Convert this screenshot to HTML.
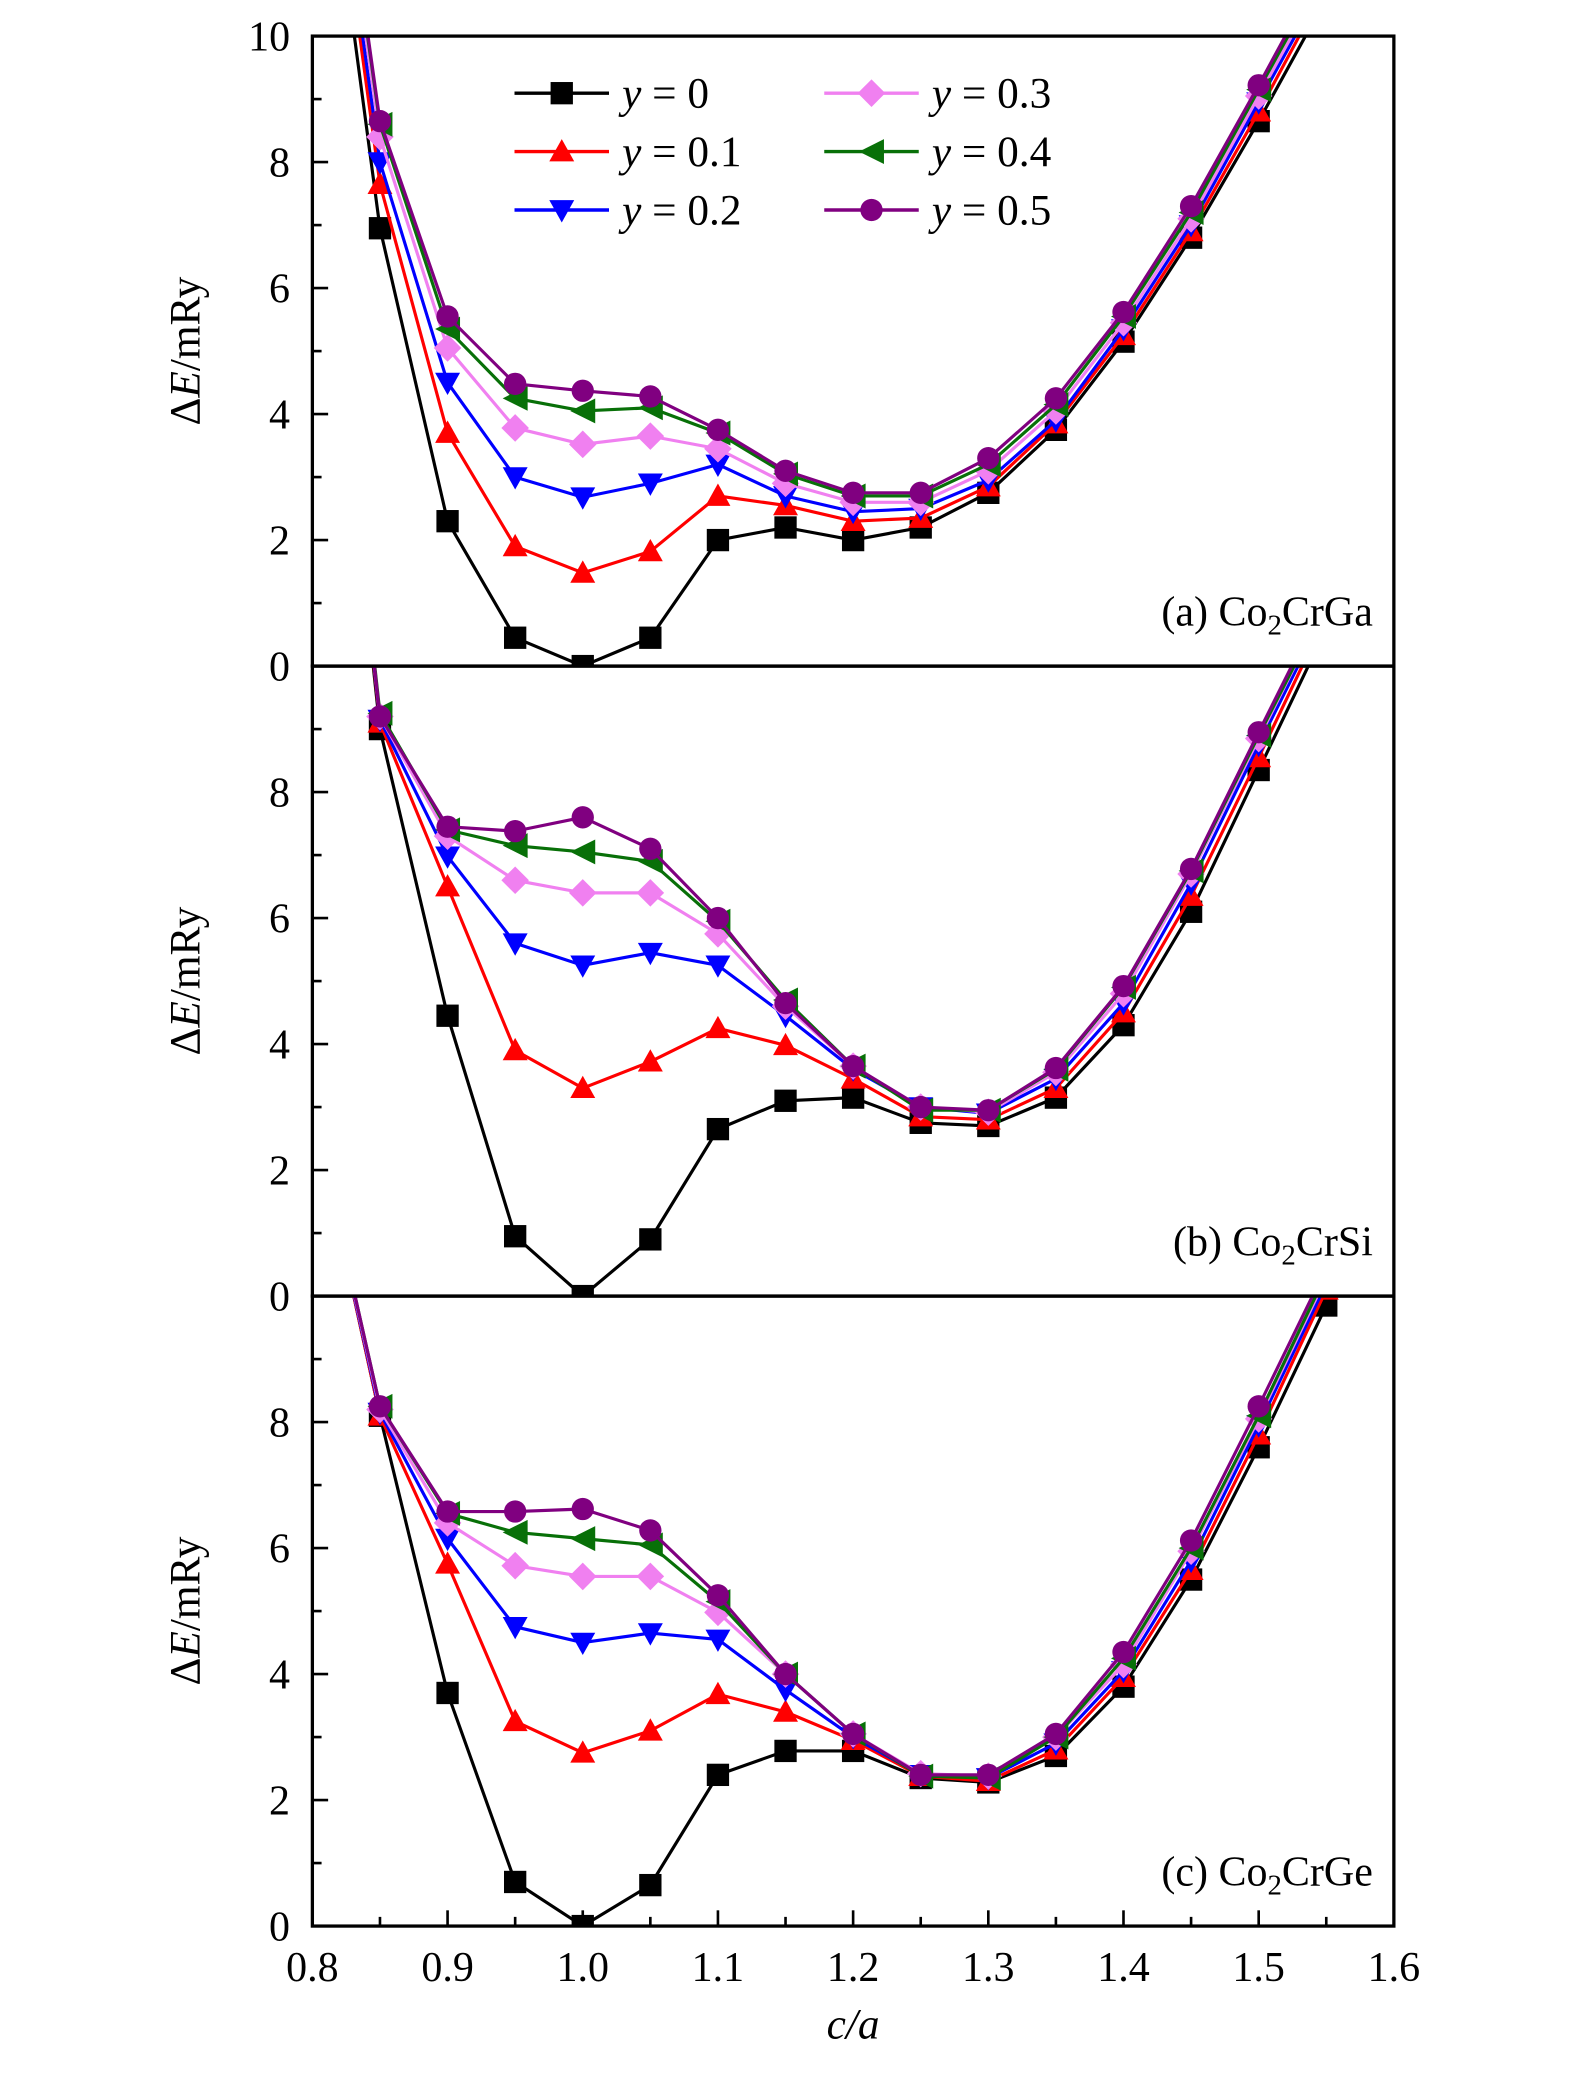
<!DOCTYPE html>
<html><head><meta charset="utf-8"><style>
html,body{margin:0;padding:0;background:#fff}
svg{display:block}
text{font-family:"Liberation Serif",serif;fill:#000}
</style></head><body>
<svg id="chart" width="1575" height="2077" viewBox="0 0 1200 1582.5" xmlns="http://www.w3.org/2000/svg"></svg>
<script>
const xValues=[0.8,0.85,0.9,0.95,1.0,1.05,1.1,1.15,1.2,1.25,1.3,1.35,1.4,1.45,1.5,1.55];
const seriesLabels=["y = 0","y = 0.1","y = 0.2","y = 0.3","y = 0.4","y = 0.5"];
const xTickLabels=["0.8","0.9","1.0","1.1","1.2","1.3","1.4","1.5","1.6"];
const yTickLabels=["0","2","4","6","8"];
const panelLabels=["(a) Co","(b) Co","(c) Co"];
const panelSuffix=["CrGa","CrSi","CrGe"];
const panelA=[
[15,6.95,2.3,0.45,0,0.45,2.0,2.2,2.0,2.2,2.75,3.75,5.15,6.8,8.65,10.6],
[15.5,7.65,3.7,1.9,1.48,1.82,2.7,2.55,2.3,2.35,2.85,3.85,5.25,6.9,8.8,10.8],
[15.8,8.0,4.5,3.0,2.68,2.9,3.2,2.7,2.45,2.5,2.95,3.9,5.35,7.0,8.95,10.9],
[16,8.4,5.05,3.78,3.52,3.65,3.45,2.9,2.6,2.6,3.1,4.05,5.45,7.1,9.05,11.0],
[16.2,8.6,5.35,4.25,4.05,4.1,3.7,3.05,2.7,2.7,3.2,4.15,5.55,7.2,9.15,11.1],
[16.3,8.65,5.55,4.48,4.37,4.28,3.75,3.1,2.75,2.75,3.3,4.25,5.62,7.3,9.22,11.2]];
const panelB=[
[19,9.0,4.45,0.95,0,0.9,2.65,3.1,3.15,2.75,2.7,3.15,4.3,6.1,8.35,10.6],
[19,9.1,6.5,3.9,3.3,3.72,4.25,3.98,3.45,2.85,2.8,3.3,4.5,6.35,8.55,10.8],
[19,9.15,6.98,5.6,5.25,5.45,5.25,4.45,3.6,3.0,2.9,3.45,4.65,6.55,8.75,10.9],
[19,9.2,7.3,6.6,6.4,6.4,5.75,4.6,3.65,3.0,2.92,3.55,4.8,6.7,8.85,11.0],
[19,9.25,7.4,7.15,7.05,6.9,5.95,4.7,3.65,2.95,2.95,3.6,4.9,6.75,8.9,11.0],
[19,9.2,7.45,7.38,7.6,7.1,6.0,4.65,3.65,3.0,2.95,3.62,4.92,6.78,8.95,11.1]];
const panelC=[
[13,8.1,3.7,0.7,0.0,0.65,2.4,2.78,2.78,2.35,2.28,2.7,3.8,5.5,7.6,9.85],
[13,8.1,5.75,3.25,2.75,3.1,3.68,3.4,2.95,2.38,2.3,2.8,3.95,5.65,7.8,10.1],
[13,8.15,6.15,4.75,4.5,4.65,4.55,3.75,3.0,2.4,2.35,2.9,4.05,5.8,7.95,10.2],
[13,8.2,6.4,5.72,5.55,5.55,4.98,4.0,3.05,2.42,2.38,3.0,4.15,5.95,8.05,10.3],
[13,8.25,6.55,6.25,6.15,6.05,5.15,4.0,3.05,2.38,2.35,3.0,4.25,6.0,8.1,10.35],
[13,8.25,6.58,6.58,6.62,6.28,5.25,4.0,3.05,2.4,2.4,3.05,4.35,6.12,8.25,10.45]];
const panelData=[panelA,panelB,panelC];
const colors=["#000","#f00","#00f","#f080f0","#087008","#800080"];
const markerTypes=["square","up","down","diamond","left","circle"];

const NS="http://www.w3.org/2000/svg";
const svg=document.getElementById('chart');
const L=238,R=1062,PH=480,panelTops=[27.5,507.5,987.5];
const xs=v=>L+(v-0.8)/0.8*(R-L);
function mk(tag,attrs,parent){const e=document.createElementNS(NS,tag);for(const k in attrs)e.setAttribute(k,attrs[k]);(parent||svg).appendChild(e);return e;}
function marker(type,x,y,c,g){
  const s=8.5;let e;
  if(type==="square")e=mk('rect',{x:x-s,y:y-s,width:2*s,height:2*s,fill:c},g);
  else if(type==="circle")e=mk('circle',{cx:x,cy:y,r:s,fill:c},g);
  else if(type==="up")e=mk('polygon',{points:`${x},${y-s-1} ${x-s-1},${y+s-1} ${x+s+1},${y+s-1}`,fill:c},g);
  else if(type==="down")e=mk('polygon',{points:`${x},${y+s+1} ${x-s-1},${y-s+1} ${x+s+1},${y-s+1}`,fill:c},g);
  else if(type==="diamond")e=mk('polygon',{points:`${x},${y-s-2} ${x+s+2},${y} ${x},${y+s+2} ${x-s-2},${y}`,fill:c},g);
  else e=mk('polygon',{points:`${x-s-1},${y} ${x+s+1},${y-s-1} ${x+s+1},${y+s+1}`,fill:c},g);
  return e;
}
panelData.forEach((data,p)=>{
  const top=panelTops[p],bot=top+PH;
  const ys=v=>bot-v/10*PH;
  const g=mk('g',{});
  
  
  const cid='clip'+p;
  const cp=mk('clipPath',{id:cid},g);mk('rect',{x:L,y:top,width:R-L,height:PH},cp);
  const sg=mk('g',{'clip-path':`url(#${cid})`},g);
  data.forEach((vals,i)=>{
    const pts=vals.map((v,j)=>xs(xValues[j])+','+ys(v)).join(' ');
    const line=mk('polyline',{points:pts,fill:'none',stroke:colors[i],'stroke-width':2.4,'stroke-linejoin':'round'},sg);
    
    
    vals.forEach((v,j)=>{if(j===0)return;
      const m=marker(markerTypes[i],xs(xValues[j]),ys(v),colors[i],sg);
      
      
    });
  });
  const fr=mk('rect',{x:L,y:top,width:R-L,height:PH,fill:'none',stroke:'#000','stroke-width':2.5},g);
  
  
  for(let v=0;v<=10;v+=1){const y=ys(v);const len=v%2===0?12:7;mk('line',{x1:L,y1:y,x2:L+len,y2:y,stroke:'#000','stroke-width':2},g);}
  yTickLabels.forEach(t=>{const tx=mk('text',{x:221,y:ys(+t)+11,'text-anchor':'end','font-size':32},g);tx.textContent=t;
    });
  if(p===0){const tx=mk('text',{x:221,y:ys(10)+11,'text-anchor':'end','font-size':32},g);tx.textContent="10";
    }
  const yt=mk('text',{transform:`translate(152,${top+PH/2}) rotate(-90)`,'text-anchor':'middle','font-size':33},g);
  yt.innerHTML='Δ<tspan font-style="italic">E</tspan>/mRy';
  
  const pl=mk('text',{x:1046,y:bot-31,'text-anchor':'end','font-size':32},g);
  pl.innerHTML=panelLabels[p]+'<tspan font-size="22" dy="7">2</tspan><tspan dy="-7">'+panelSuffix[p]+'</tspan>';
  
  if(p===2){
    for(let k=0;k<=16;k++){const x=xs(0.8+k*0.05);const len=k%2===0?12:7;mk('line',{x1:x,y1:bot,x2:x,y2:bot-len,stroke:'#000','stroke-width':2},g);}
    xTickLabels.forEach(t=>{const tx=mk('text',{x:xs(+t),y:bot+42,'text-anchor':'middle','font-size':32},g);tx.textContent=t;
      });
    const xt=mk('text',{x:(L+R)/2,y:1553,'text-anchor':'middle','font-size':33,'font-style':'italic'},g);
    xt.textContent='c/a';
  }
});
const lg=mk('g',{});


seriesLabels.forEach((s,i)=>{
  const col=Math.floor(i/3),row=i%3;
  const x0=col?628:392,y=71+row*44.5;
  mk('line',{x1:x0,y1:y,x2:x0+72,y2:y,stroke:colors[i],'stroke-width':2.6},lg);
  marker(markerTypes[i],x0+36,y,colors[i],lg);
  const t=mk('text',{x:x0+82,y:y+11,'font-size':33},lg);
  const parts=s.split(' = ');
  t.innerHTML='<tspan font-style="italic">'+parts[0]+'</tspan> = '+parts[1];
  
  
});
</script>
</body></html>
